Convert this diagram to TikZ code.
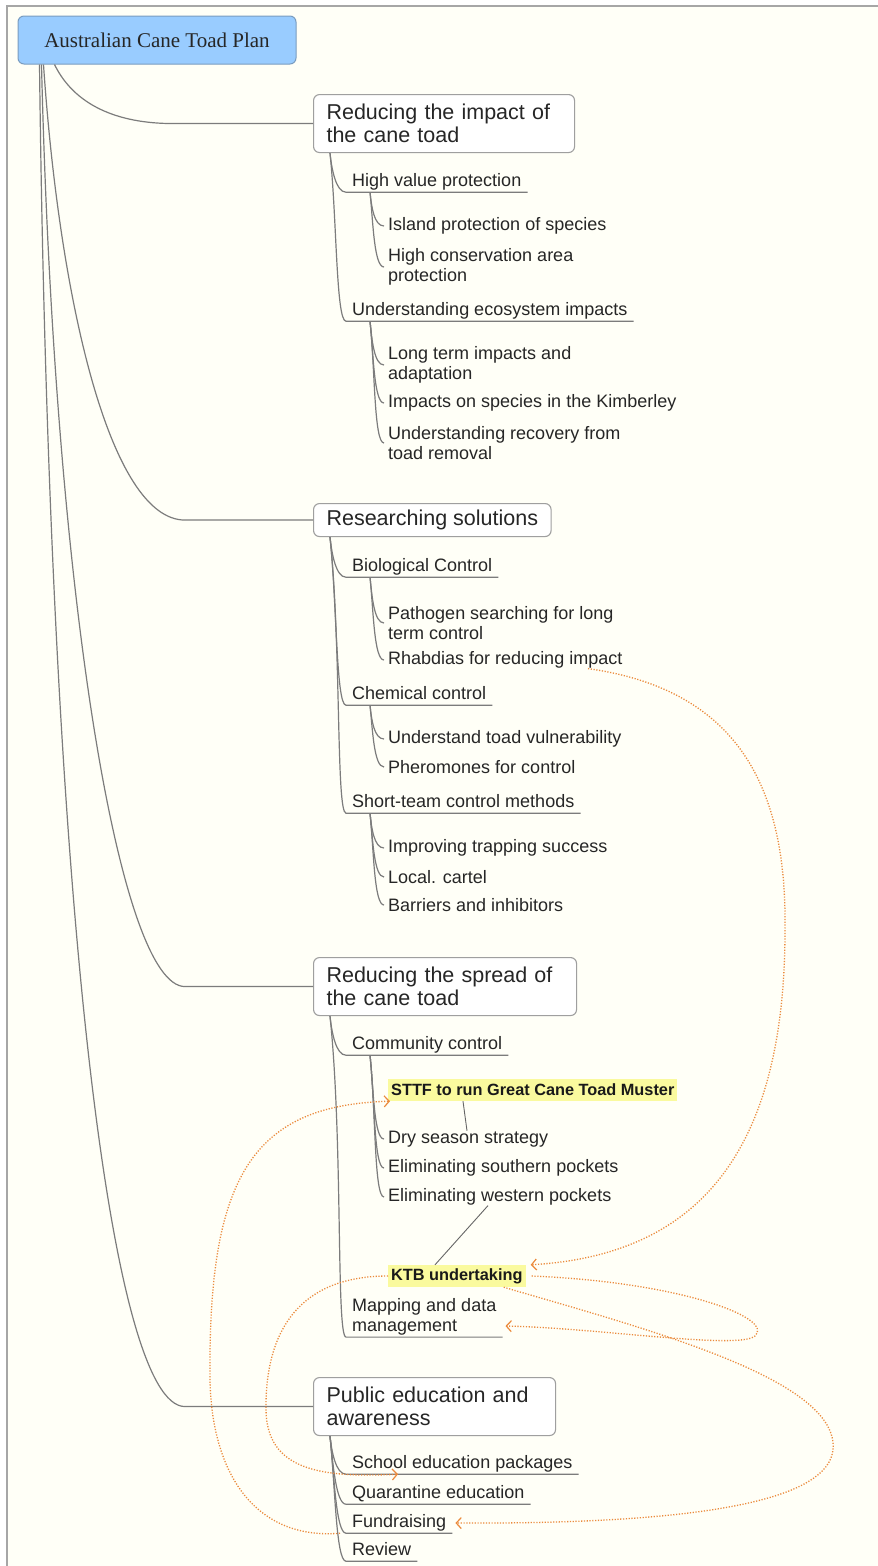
\documentclass[tikz,border=0pt]{standalone}
\usepackage{fontspec}
\setmainfont{Liberation Sans}
\newfontfamily\rootserif{Liberation Serif}
\usepackage{xcolor}
\usetikzlibrary{arrows.meta}

\definecolor{paper}{HTML}{FFFFF7}
\definecolor{rootblue}{HTML}{99CCFF}
\definecolor{rootedge}{HTML}{7A9CC0}
\definecolor{twig}{HTML}{7C7C7C}
\definecolor{linkorange}{HTML}{EB8A3C}
\definecolor{marker}{HTML}{FAFA9E}

\begin{document}
\begin{tikzpicture}[x=1pt,y=-1pt,
    root/.style={draw=rootedge,fill=rootblue,line width=1pt,rounded corners=6pt,minimum width=278pt,minimum height=48pt,font=\rootserif\fontsize{21}{24}\selectfont,text=black!85},
    topic/.style={draw=gray!75,fill=white,line width=1.1pt,rounded corners=6pt,anchor=north west,align=left,inner xsep=13pt,font=\fontsize{21.5}{23}\selectfont,text=black!85},
    subbox/.style={anchor=west,inner xsep=6pt,inner ysep=1.5pt,font=\fontsize{18}{20}\selectfont,text=black!85},
    sub/.style={subbox,text height=13pt,text depth=4pt},
    leaf/.style={anchor=west,inner xsep=4pt,inner ysep=0pt,align=left,font=\fontsize{18}{20}\selectfont,text=black!85},
    note/.style={anchor=west,fill=marker,inner xsep=3pt,minimum height=22pt,font=\bfseries\fontsize{16.3}{18}\selectfont,text=black!90},
    branch/.style={draw=twig,line width=1.2pt},
    twigcurve/.style={out=-84,in=180,in distance=10pt},
    tie/.style={draw=black!60,line width=0.9pt},
    crosslink/.style={draw=linkorange,line width=1.3pt,dash pattern=on 1.2pt off 1.6pt,-{Straight Barb[length=5pt,width=11pt,line width=1.2pt]}},
  ]
    \useasboundingbox (0,0) rectangle (878,1566);
    % Page and frame
    \fill[white] (0,0) rectangle (878,1566);
    \fill[paper] (7,6) rectangle (878,1566);
    \draw[gray!70,line width=2pt] (7,1566) -- (7,6) -- (878,6);

    % Central topic
    \node[root] (root) at (157,40) {Australian Cane Toad Plan};

    % Main topics
    \node[topic,text width=235pt,minimum height=58pt] (t1) at (313,94) {Reducing the impact of\\the cane toad};
    \node[topic,minimum width=236pt,minimum height=33pt] (t2) at (313,503) {Researching solutions};
    \node[topic,text width=237pt,minimum height=58pt] (t3) at (313,957) {Reducing the spread of\\the cane toad};
    \node[topic,text width=216pt,minimum height=58pt] (t4) at (313,1377) {Public education and\\awareness};

    % Reducing the impact
    \node[sub] (hv) at (346,182) {High value protection};
    \node[leaf] (island) at (384,226) {Island protection of species};
    \node[leaf] (hca) at (384,267) {High conservation area\\protection};
    \node[sub] (eco) at (346,311) {Understanding ecosystem impacts};
    \node[leaf] (longterm) at (384,365) {Long term impacts and\\adaptation};
    \node[leaf] (kimb) at (384,403) {Impacts on species in the Kimberley};
    \node[leaf] (recov) at (384,443) {Understanding recovery from\\toad removal};

    % Researching solutions
    \node[sub] (bio) at (346,567) {Biological Control};
    \node[leaf] (patho) at (384,623) {Pathogen searching for long\\term control};
    \node[leaf] (rhab) at (384,660) {Rhabdias for reducing impact};
    \node[sub] (chem) at (346,695) {Chemical control};
    \node[leaf] (vuln) at (384,739) {Understand toad vulnerability};
    \node[leaf] (phero) at (384,767) {Pheromones for control};
    \node[sub] (short) at (346,803) {Short-team control methods};
    \node[leaf] (trap) at (384,848) {Improving trapping success};
    \node[leaf] (cartel) at (384,877) {Local. cartel};
    \node[leaf] (barrier) at (384,905) {Barriers and inhibitors};

    % Reducing the spread
    \node[sub] (comm) at (346,1045) {Community control};
    \node[note] (sttf) at (388,1090) {STTF to run Great Cane Toad Muster};
    \node[leaf] (dry) at (384,1139) {Dry season strategy};
    \node[leaf] (southp) at (384,1168) {Eliminating southern pockets};
    \node[leaf] (westp) at (384,1197) {Eliminating western pockets};
    \node[note] (ktb) at (388,1276) {KTB undertaking};
    \node[subbox,align=left] (map) at (346,1317) {Mapping and data\\management};

    % Public education
    \node[sub] (school) at (346,1464) {School education packages};
    \node[sub] (quar) at (346,1494) {Quarantine education};
    \node[sub] (fund) at (346,1523) {Fundraising};
    \node[sub] (review) at (346,1551) {Review};

    % Root branches
    \draw[branch] ([xshift=37pt]root.south west) .. controls +(20,41) and +(-55,0) .. ([xshift=-140pt]t1.west) -- (t1.west);
    \draw[branch] ([xshift=26pt]root.south west) .. controls +(16,236) and +(-75,0) .. ([xshift=-128pt]t2.west) -- (t2.west);
    \draw[branch] ([xshift=24pt]root.south west) .. controls +(13,536) and +(-65,0) .. ([xshift=-128pt]t3.west) -- (t3.west);
    \draw[branch] ([xshift=22pt]root.south west) .. controls +(10,836) and +(-75,0) .. ([xshift=-128pt]t4.west) -- (t4.west);

    % Topic to subtopic
    \draw[branch] ([xshift=17pt]t1.south west) to[twigcurve] (hv.south west) -- (hv.south east);
    \draw[branch] ([xshift=17pt]t1.south west) to[twigcurve] (eco.south west) -- (eco.south east);
    \draw[branch] ([xshift=17pt]t2.south west) to[twigcurve] (bio.south west) -- (bio.south east);
    \draw[branch] ([xshift=17pt]t2.south west) to[twigcurve] (chem.south west) -- (chem.south east);
    \draw[branch] ([xshift=17pt]t2.south west) to[twigcurve] (short.south west) -- (short.south east);
    \draw[branch] ([xshift=17pt]t3.south west) to[twigcurve] (comm.south west) -- (comm.south east);
    \draw[branch] ([xshift=17pt]t3.south west) to[twigcurve] (map.south west) -- (map.south east);
    \draw[branch] ([xshift=17pt]t4.south west) to[twigcurve] (school.south west) -- (school.south east);
    \draw[branch] ([xshift=17pt]t4.south west) to[twigcurve] (quar.south west) -- (quar.south east);
    \draw[branch] ([xshift=17pt]t4.south west) to[twigcurve] (fund.south west) -- (fund.south east);
    \draw[branch] ([xshift=17pt]t4.south west) to[twigcurve] (review.south west) -- (review.south east);

    % Subtopic to leaf
    \draw[branch] ([xshift=24pt]hv.south west) to[twigcurve] (island.west);
    \draw[branch] ([xshift=24pt]hv.south west) to[twigcurve] (hca.west);
    \draw[branch] ([xshift=24pt]eco.south west) to[twigcurve] (longterm.west);
    \draw[branch] ([xshift=24pt]eco.south west) to[twigcurve] (kimb.west);
    \draw[branch] ([xshift=24pt]eco.south west) to[twigcurve] (recov.west);
    \draw[branch] ([xshift=24pt]bio.south west) to[twigcurve] (patho.west);
    \draw[branch] ([xshift=24pt]bio.south west) to[twigcurve] (rhab.west);
    \draw[branch] ([xshift=24pt]chem.south west) to[twigcurve] (vuln.west);
    \draw[branch] ([xshift=24pt]chem.south west) to[twigcurve] (phero.west);
    \draw[branch] ([xshift=24pt]short.south west) to[twigcurve] (trap.west);
    \draw[branch] ([xshift=24pt]short.south west) to[twigcurve] (cartel.west);
    \draw[branch] ([xshift=24pt]short.south west) to[twigcurve] (barrier.west);
    \draw[branch] ([xshift=24pt]comm.south west) to[twigcurve] (dry.west);
    \draw[branch] ([xshift=24pt]comm.south west) to[twigcurve] (southp.west);
    \draw[branch] ([xshift=24pt]comm.south west) to[twigcurve] (westp.west);

    % Floating notes
    \draw[tie] ([xshift=75pt]sttf.south west) -- ([xshift=83pt]dry.north west);
    \draw[tie] ([xshift=104pt]westp.south west) -- ([xshift=47pt]ktb.north west);

    % Relationship links
    \draw[crosslink] ([xshift=204pt]rhab.south west) .. controls (740,690) and (787,790) .. (785,930) .. controls (785,1150) and (700,1255) .. ([xshift=5pt]ktb.north east);
    \draw[crosslink] ([xshift=6pt]ktb.east) .. controls (680,1282) and (775,1318) .. (755,1336) .. controls (738,1350) and (600,1328) .. ([xshift=3pt,yshift=-9pt]map.east);
    \draw[crosslink] ([xshift=-22pt]ktb.south east) .. controls (650,1330) and (840,1380) .. (833,1450) .. controls (826,1510) and (650,1524) .. ([xshift=3pt]fund.east);
    \draw[crosslink] (ktb.west) .. controls (300,1276) and (265,1330) .. (266,1410) .. controls (267,1470) and (320,1478) .. ([xshift=52pt]school.south west);
    \draw[crosslink] ([xshift=-6pt]fund.south west) .. controls (260,1540) and (212,1480) .. (210,1380) .. controls (208,1180) and (250,1105) .. ([xshift=2pt]sttf.south west);
\end{tikzpicture}
\end{document}
